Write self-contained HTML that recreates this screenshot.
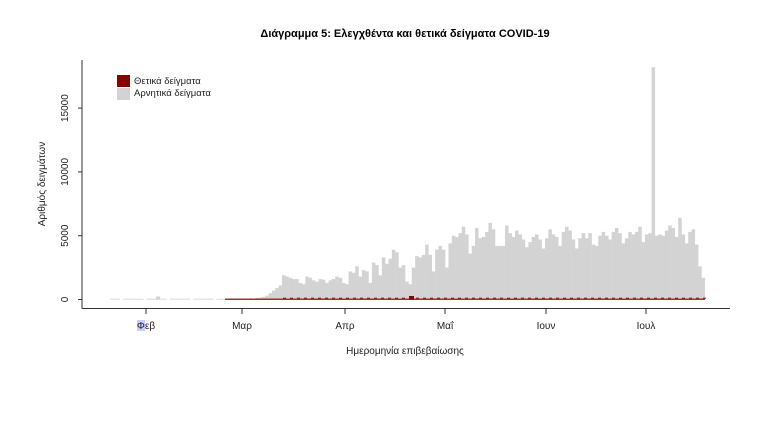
<!DOCTYPE html>
<html><head><meta charset="utf-8"><style>
body{margin:0;background:#fff;}
svg{display:block;font-family:"Liberation Sans","DejaVu Sans",sans-serif;}
</style></head><body>
<svg id="s" width="770" height="433" viewBox="0 0 770 433">
<text x="405" y="37" text-anchor="middle" font-size="11" font-weight="bold" fill="#000">Διάγραμμα 5: Ελεγχθέντα και θετικά δείγματα COVID-19</text>
<g id="bars"></g>
<line x1="82" y1="60" x2="82" y2="308.5" stroke="#333" stroke-width="1"/>
<line x1="82" y1="308.5" x2="730" y2="308.5" stroke="#333" stroke-width="1"/>
<g font-size="10" fill="#222">
<line x1="78" y1="299.5" x2="82" y2="299.5" stroke="#333"/><text transform="translate(68,299.5) rotate(-90)" text-anchor="middle">0</text>
<line x1="78" y1="235.7" x2="82" y2="235.7" stroke="#333"/><text transform="translate(68,235.7) rotate(-90)" text-anchor="middle">5000</text>
<line x1="78" y1="171.9" x2="82" y2="171.9" stroke="#333"/><text transform="translate(68,171.9) rotate(-90)" text-anchor="middle">10000</text>
<line x1="78" y1="108.1" x2="82" y2="108.1" stroke="#333"/><text transform="translate(68,108.1) rotate(-90)" text-anchor="middle">15000</text>
</g>
<g font-size="10" fill="#222" text-anchor="middle">
<line x1="146" y1="308" x2="146" y2="314" stroke="#333"/><rect x="137" y="320" width="8" height="11" fill="#c8ccff"/><text x="146" y="329">Φεβ</text>
<line x1="242" y1="308" x2="242" y2="314" stroke="#333"/><text x="242" y="329">Μαρ</text>
<line x1="345" y1="308" x2="345" y2="314" stroke="#333"/><text x="345" y="329">Απρ</text>
<line x1="445" y1="308" x2="445" y2="314" stroke="#333"/><text x="445" y="329">Μαΐ</text>
<line x1="546" y1="308" x2="546" y2="314" stroke="#333"/><text x="546" y="329">Ιουν</text>
<line x1="646" y1="308" x2="646" y2="314" stroke="#333"/><text x="646" y="329">Ιουλ</text>
</g>
<text x="405" y="354" text-anchor="middle" font-size="10" fill="#222">Ημερομηνία επιβεβαίωσης</text>
<text transform="translate(45,184) rotate(-90)" text-anchor="middle" font-size="10" fill="#222">Αριθμός δειγμάτων</text>
<rect x="117" y="75" width="13" height="12" fill="#8b0000"/>
<rect x="117" y="88" width="13" height="12" fill="#d3d3d3"/>
<text x="134" y="84" font-size="9.5" fill="#222">Θετικά δείγματα</text>
<text x="134" y="96" font-size="9.5" fill="#222">Αρνητικά δείγματα</text>
</svg>
<script>
var g=document.getElementById('bars'),ns='http://www.w3.org/2000/svg';
function r(x,y,w,h,c){var e=document.createElementNS(ns,'rect');e.setAttribute('x',x);e.setAttribute('y',y);e.setAttribute('width',w);e.setAttribute('height',h);e.setAttribute('fill',c);g.appendChild(e);}
var y0=299.5,k=63.8/5000,dx=3.33;
for(var i=0;i<36;i++){var x=110+i*3.33; if(i%7==3)continue; r(x,y0-1,3.4,1.5,'#e6e6e6');}
r(156,y0-3,4,3,'#d3d3d3');
var vals=[40,40,50,60,80,100,80,120,150,200,300,500,700,900,1100,1900,1800,1700,1600,1600,1300,1200,1800,1700,1500,1400,1600,1550,1300,1500,1600,1800,1700,1300,1200,2200,2100,2600,1800,2300,2200,1300,2900,2700,1900,3300,2800,3200,3900,3700,2500,2700,1400,1200,2500,3400,3300,3500,4300,3500,2200,3900,4200,3900,2500,4400,5000,4900,5200,5700,5100,3600,4200,5600,4800,4900,5300,6000,5500,4200,4200,4200,5800,5200,4900,5400,5100,4700,4100,4500,4900,5100,4700,4000,4800,5500,5100,4900,4200,5300,5700,5400,4700,4000,4800,5200,4800,5200,4300,4200,5000,5300,5000,4700,5300,5600,5200,4400,4800,5300,5100,5300,5700,4500,5100,5200,18200,5000,5100,5000,5400,5800,5600,4900,6400,5100,4400,5300,5500,4300,2600,1700];
var xs=232;
for(var i=0;i<vals.length;i++){var x=xs+i*dx,h=vals[i]*k;r(x.toFixed(2),(y0-h).toFixed(2),(dx+0.2).toFixed(2),h.toFixed(2),'#d3d3d3');}
var xe=xs+vals.length*dx;
r(225,y0-1,xe-225,1.5,'#a83030');
for(var x=283;x<xe;x+=7){r(x,y0-1.8,3,1,'#9a1010');}
r(409,y0-3.5,5,3.5,'#8b0000');
</script>
</body></html>
